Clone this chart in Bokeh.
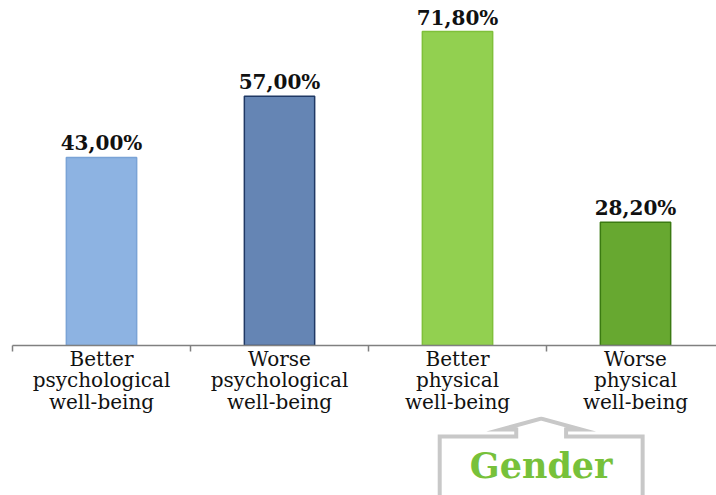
from bokeh.plotting import figure
from bokeh.layouts import column
from bokeh.models import ColumnDataSource, Range1d, FixedTicker
from bokeh.core.properties import value
from bokeh.embed import file_html
from bokeh.resources import INLINE

# ---- data ----
categories = ["Better\npsychological\nwell-being",
              "Worse\npsychological\nwell-being",
              "Better\nphysical\nwell-being",
              "Worse\nphysical\nwell-being"]
percentages = [43.0, 57.0, 71.8, 28.2]
bar_colors = ["#8db3e2", "#6585b4", "#92d050", "#67a830"]
bar_lines = ["#7aa3d6", "#1f3864", "#7fc03a", "#3b7a12"]
callout_text = "Gender"

SERIF = "DejaVu Serif"

positions = [i + 0.5 for i in range(len(categories))]
labels = [f"{v:.2f}%".replace(".", ",") for v in percentages]

src = ColumnDataSource(dict(x=positions, top=percentages, color=bar_colors,
                            line=bar_lines, label=labels))

xr = Range1d(0, 3.955)

p = figure(width=716, height=416, output_backend="svg", toolbar_location=None,
           x_range=xr, y_range=Range1d(0, 78.9),
           min_border_left=12, min_border_right=0, min_border_top=0,
           min_border_bottom=71)
p.background_fill_color = "white"
p.border_fill_color = "white"
p.outline_line_color = None
p.xgrid.visible = False
p.ygrid.visible = False
p.yaxis.visible = False

p.vbar(x="x", top="top", bottom=0, width=0.395, source=src,
       fill_color="color", line_color="line", line_width=1.5)

p.text(x="x", y="top", text="label", source=src, y_offset=-2,
       text_align="center", text_baseline="bottom",
       text_font=value(SERIF), text_font_style="bold",
       text_font_size="20px", text_color="#111111")

ax = p.xaxis[0]
ax.ticker = FixedTicker(ticks=positions, minor_ticks=list(range(len(categories) + 1)))
ax.major_label_overrides = {pos: cat for pos, cat in zip(positions, categories)}
ax.axis_line_color = "#808080"
ax.axis_line_width = 1.5
ax.major_tick_in = 0
ax.major_tick_out = 0
ax.minor_tick_in = 0
ax.minor_tick_out = 6
ax.minor_tick_line_color = "#808080"
ax.minor_tick_line_width = 1.5
ax.major_label_standoff = -5
ax.major_label_text_font = SERIF
ax.major_label_text_font_size = "20px"
ax.major_label_text_color = "#111111"
ax.major_label_text_line_height = 0.9

# ---- callout panel below, sharing the category x scale ----
p2 = figure(width=716, height=79, output_backend="svg", toolbar_location=None,
            x_range=xr, y_range=Range1d(79, 0),
            min_border_left=12, min_border_right=0, min_border_top=0,
            min_border_bottom=0)
p2.background_fill_color = "white"
p2.border_fill_color = "white"
p2.outline_line_color = None
p2.xgrid.visible = False
p2.ygrid.visible = False
p2.xaxis.visible = False
p2.yaxis.visible = False

c = len(categories) - 1 - 0.03      # boundary between 3rd and 4th category
box_w, shaft_w, head_w = 0.57, 0.14, 0.225
cx = [c - box_w, c - box_w, c - shaft_w, c - shaft_w, c - head_w, c,
      c + head_w, c + shaft_w, c + shaft_w, c + box_w, c + box_w]
cy = [95, 20, 20, 13, 13, 2, 13, 13, 20, 20, 95]
p2.patch(cx, cy, fill_color="white", line_color="#c8c8c8", line_width=4,
         line_join="miter")
p2.text(x=[c], y=[49], text=[callout_text], text_align="center",
        text_baseline="middle", text_font=value(SERIF), text_font_style="bold",
        text_font_size="35px", text_color="#77c13a")

open("out.html", "w").write(file_html(column(p, p2, spacing=0), INLINE))
